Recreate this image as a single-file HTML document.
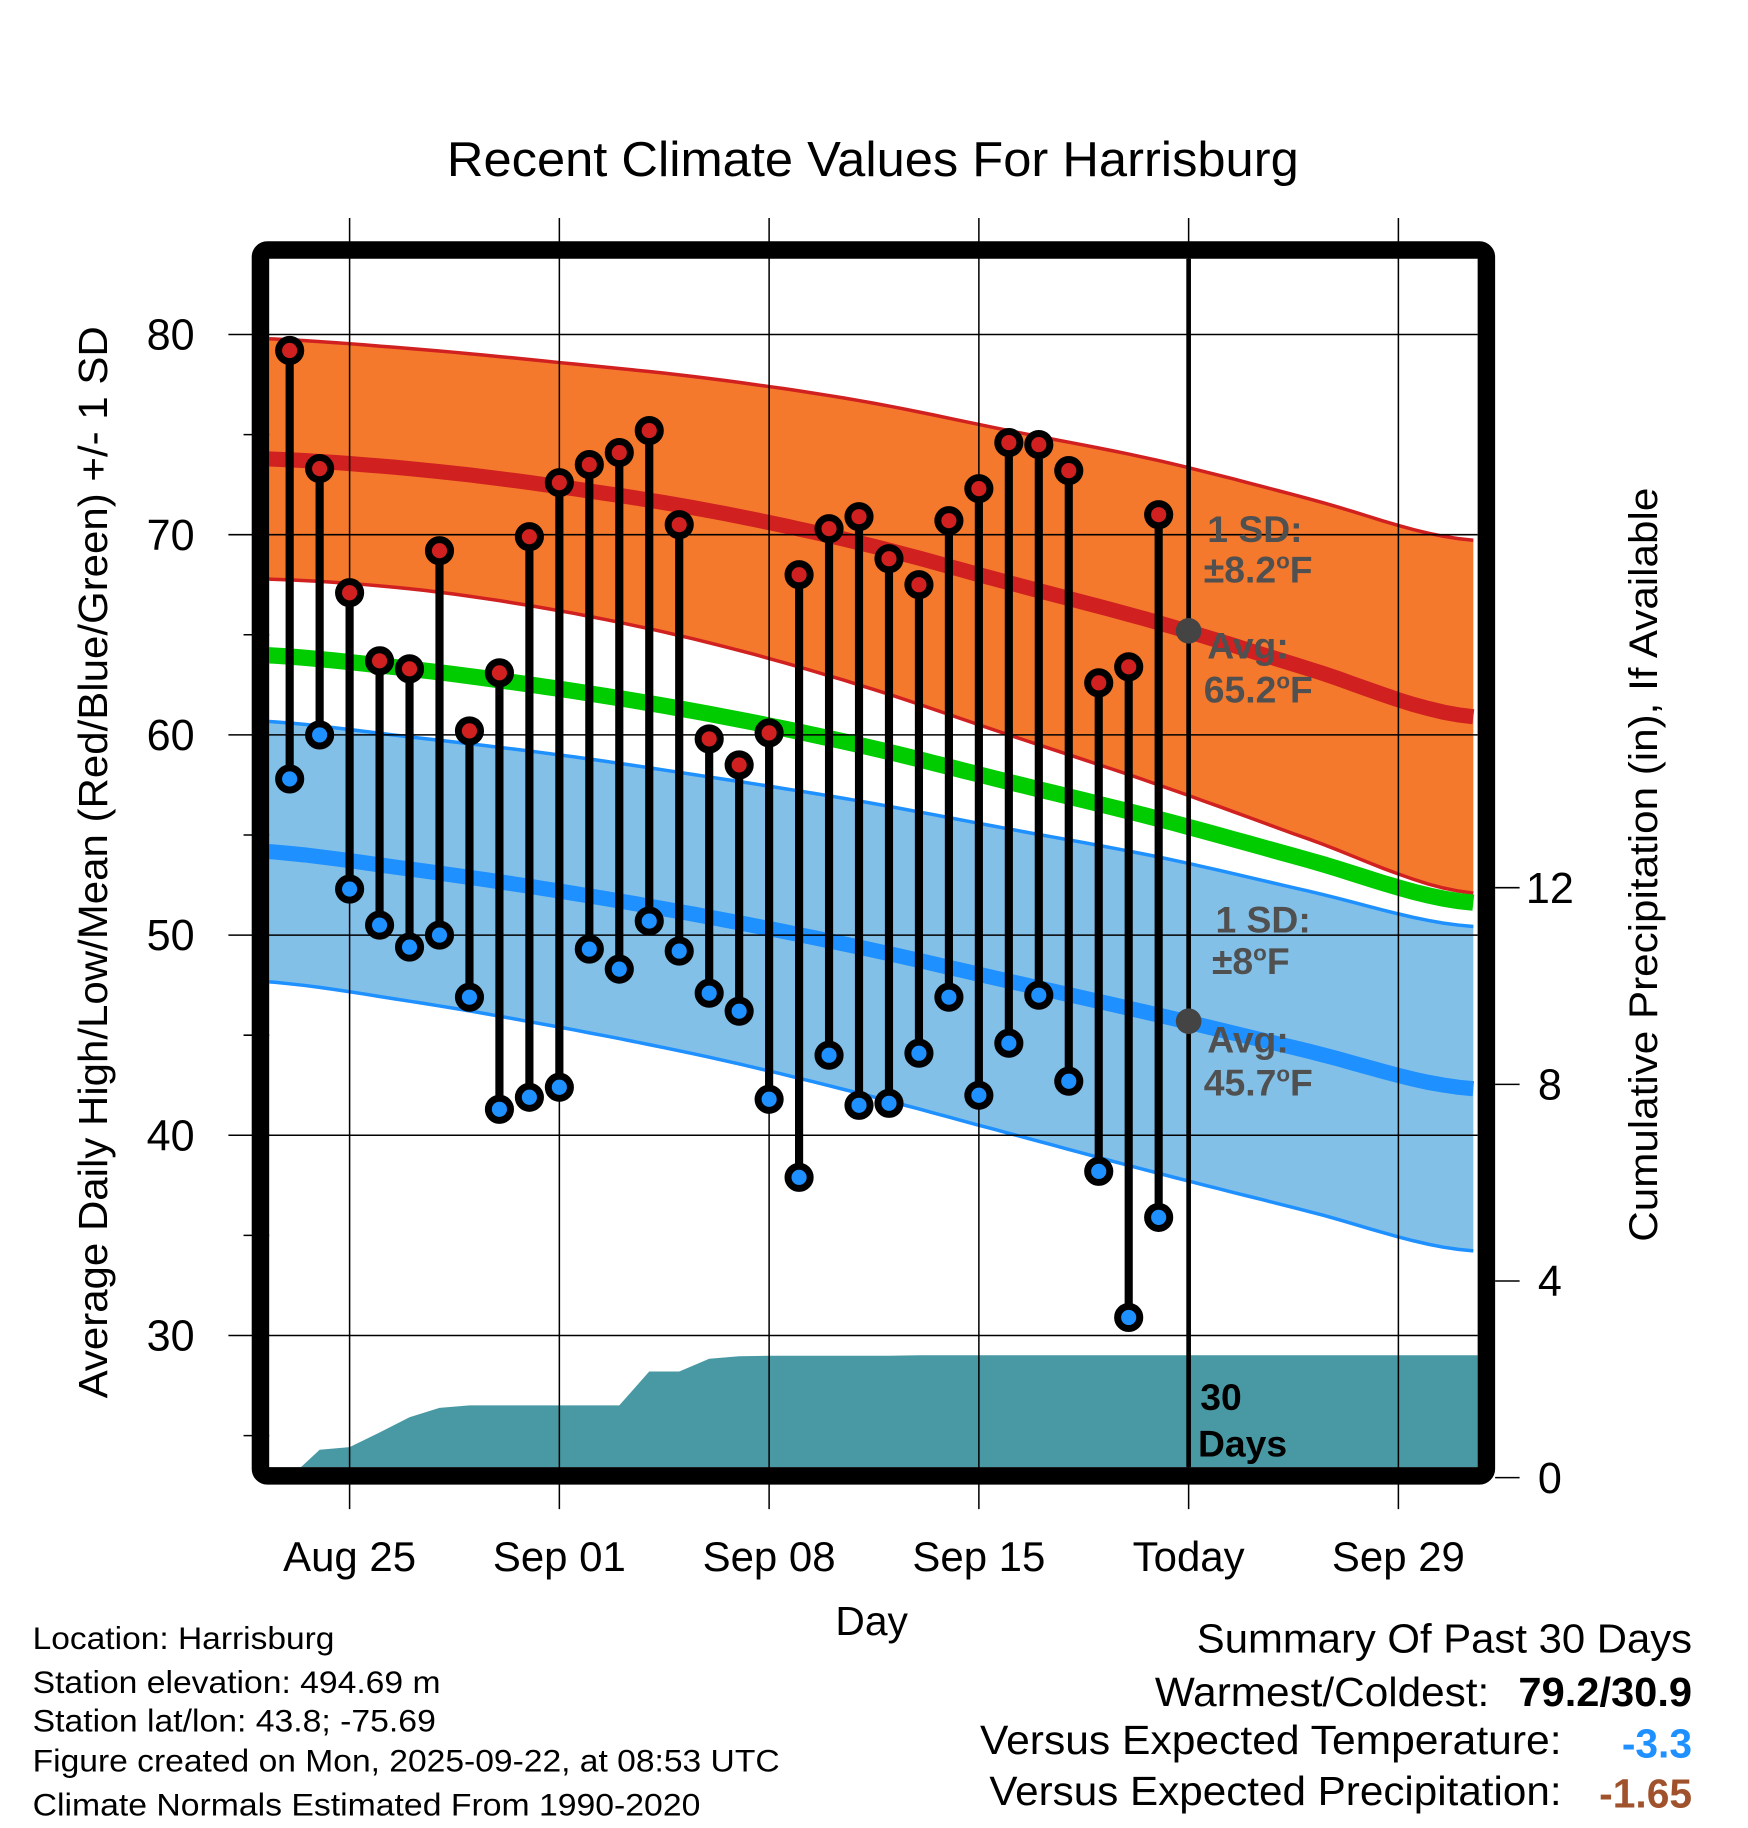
<!DOCTYPE html>
<html><head><meta charset="utf-8"><style>
html,body{margin:0;padding:0;background:#fff}
svg{display:block;font-family:"Liberation Sans",Arial,sans-serif}
</style></head><body>
<svg id="chart" width="1748" height="1828" viewBox="0 0 1500 1568.6" xmlns="http://www.w3.org/2000/svg">
<text x="749" y="151" font-size="42" text-anchor="middle" textLength="731" lengthAdjust="spacingAndGlyphs">Recent Climate Values For Harrisburg</text>
<defs><clipPath id="plotclip"><rect x="231" y="222" width="1037" height="1037"/></clipPath></defs>
<g id="bands" clip-path="url(#plotclip)"></g>
<g id="grid"></g>
<g id="marks"></g>
<g id="axes"></g>
<g font-size="27">
<text x="28" y="1415" textLength="259" lengthAdjust="spacingAndGlyphs">Location: Harrisburg</text>
<text x="28" y="1453" textLength="350" lengthAdjust="spacingAndGlyphs">Station elevation: 494.69 m</text>
<text x="28" y="1486" textLength="346" lengthAdjust="spacingAndGlyphs">Station lat/lon: 43.8; -75.69</text>
<text x="28" y="1520" textLength="641" lengthAdjust="spacingAndGlyphs">Figure created on Mon, 2025-09-22, at 08:53 UTC</text>
<text x="28" y="1558" textLength="573" lengthAdjust="spacingAndGlyphs">Climate Normals Estimated From 1990-2020</text>
</g>
<g font-size="35">
<text x="1027" y="1418" textLength="425" lengthAdjust="spacingAndGlyphs">Summary Of Past 30 Days</text>
<text x="991" y="1464" textLength="287" lengthAdjust="spacingAndGlyphs">Warmest/Coldest:</text>
<text x="1303" y="1464" font-weight="bold" textLength="149" lengthAdjust="spacingAndGlyphs">79.2/30.9</text>
<text x="841" y="1505" textLength="499" lengthAdjust="spacingAndGlyphs">Versus Expected Temperature:</text>
<text x="1452" y="1508" text-anchor="end" font-weight="bold" fill="#1e90ff">-3.3</text>
<text x="849" y="1549" textLength="491" lengthAdjust="spacingAndGlyphs">Versus Expected Precipitation:</text>
<text x="1452" y="1551" text-anchor="end" font-weight="bold" fill="#a0522d">-1.65</text>
</g>
</svg>
<script>
// Observed daily data, Aug 23 .. Sep 21
const days = ["Aug 23","Aug 24","Aug 25","Aug 26","Aug 27","Aug 28","Aug 29","Aug 30","Aug 31","Sep 01","Sep 02","Sep 03","Sep 04","Sep 05","Sep 06","Sep 07","Sep 08","Sep 09","Sep 10","Sep 11","Sep 12","Sep 13","Sep 14","Sep 15","Sep 16","Sep 17","Sep 18","Sep 19","Sep 20","Sep 21"];
const highs = [79.2,73.3,67.1,63.7,63.3,69.2,60.2,63.1,69.9,72.6,73.5,74.1,75.2,70.5,59.8,58.5,60.1,68.0,70.3,70.9,68.8,67.5,70.7,72.3,74.6,74.5,73.2,62.6,63.4,71.0];
const lows = [57.8,60.0,52.3,50.5,49.4,50.0,46.9,41.3,41.9,42.4,49.3,48.3,50.7,49.2,47.1,46.2,41.8,37.9,44.0,41.5,41.6,44.1,46.9,42.0,44.6,47.0,42.7,38.2,30.9,35.9];
const precip = [0.0,0.57,0.62,0.92,1.23,1.42,1.47,1.47,1.47,1.47,1.47,1.47,2.16,2.16,2.42,2.47,2.48,2.48,2.48,2.48,2.48,2.49,2.49,2.49,2.49,2.49,2.49,2.49,2.49,2.49];
// Normals every 5 days from Aug 22 to Oct 1
const normDays = [0,5,10,15,20,25,30,35,40];
const normHigh = [73.8,73.3,72.4,71.2,69.6,67.6,65.6,63.3,61.0];
const normHighSD = [6.0,6.0,6.2,6.6,7.1,7.6,8.1,8.5,8.8];
const normLow = [54.2,53.3,52.2,50.9,49.4,47.7,46.0,44.2,42.4];
const normLowSD = [6.5,6.6,6.8,7.0,7.3,7.6,7.9,8.0,8.1];
const tempTicks = [30,40,50,60,70,80];
const precipTicks = [0,4,8,12];
const dateTicks = ["Aug 25","Sep 01","Sep 08","Sep 15","Today","Sep 29"];
const dateTickDays = [3,10,17,24,31,38]; // days since Aug 22

const NS="http://www.w3.org/2000/svg";
const X0=231, X1=1268, Y0=222, Y1=1259;
function xDay(d){return 300+(d-3)*25.714;}
function yT(v){return 1146-(v-30)*17.18;}
function yP(v){return 1268-v*42.19;}
function mk(tag,attrs,parent){const e=document.createElementNS(NS,tag);for(const k in attrs)e.setAttribute(k,attrs[k]);parent.appendChild(e);return e;}
const bands=document.getElementById('bands'),grid=document.getElementById('grid'),marks=document.getElementById('marks'),axes=document.getElementById('axes');
function interp(arr,d){
 // smooth (Catmull-Rom) interpolation through the normal values
 const n=arr.length; let i=Math.floor(d/5); if(i<0)i=0; if(i>n-2)i=n-2;
 const t=(d-normDays[i])/5;
 const p0=arr[Math.max(i-1,0)],p1=arr[i],p2=arr[i+1],p3=arr[Math.min(i+2,n-1)];
 return 0.5*((2*p1)+(-p0+p2)*t+(2*p0-5*p1+4*p2-p3)*t*t+(-p0+3*p1-3*p2+p3)*t*t*t);
}
const dd=[];for(let d=0;d<=40.5;d+=0.5)dd.push(d);
function line(fn){return dd.map(d=>xDay(d).toFixed(1)+","+yT(fn(d)).toFixed(1)).join(" ");}
function bandPts(up,lo){return dd.map(d=>xDay(d).toFixed(1)+","+yT(up(d)).toFixed(1)).concat(dd.slice().reverse().map(d=>xDay(d).toFixed(1)+","+yT(lo(d)).toFixed(1))).join(" ");}
const hU=d=>interp(normHigh,d)+interp(normHighSD,d), hL=d=>interp(normHigh,d)-interp(normHighSD,d);
const lU=d=>interp(normLow,d)+interp(normLowSD,d), lL=d=>interp(normLow,d)-interp(normLowSD,d);
let e;
e=mk('polygon',{points:bandPts(hU,hL),fill:'#f4792c'},bands);


e=mk('polyline',{points:line(hU),fill:'none',stroke:'#d02020','stroke-width':3},bands);


e=mk('polyline',{points:line(hL),fill:'none',stroke:'#d02020','stroke-width':3},bands);


e=mk('polygon',{points:bandPts(lU,lL),fill:'#82c0e8'},bands);


e=mk('polyline',{points:line(lU),fill:'none',stroke:'#1e90ff','stroke-width':3},bands);


e=mk('polyline',{points:line(lL),fill:'none',stroke:'#1e90ff','stroke-width':3},bands);


e=mk('polyline',{points:line(d=>(interp(normHigh,d)+interp(normLow,d))/2),fill:'none',stroke:'#00cc00','stroke-width':14},bands);


e=mk('polyline',{points:line(d=>interp(normHigh,d)),fill:'none',stroke:'#d02020','stroke-width':13},bands);


e=mk('polyline',{points:line(d=>interp(normLow,d)),fill:'none',stroke:'#1e90ff','stroke-width':13},bands);


// precip area
let pp=[xDay(1)+","+(Y1+10)];
precip.forEach((v,i)=>pp.push(xDay(i+1).toFixed(1)+","+yP(v).toFixed(1)));
pp.push(xDay(41)+","+yP(precip[precip.length-1]).toFixed(1));
pp.push(xDay(41)+","+(Y1+10));
e=mk('polygon',{points:pp.join(" "),fill:'#4899a3'},bands);


// grid
tempTicks.forEach(v=>{
 e=mk('line',{x1:196,x2:X1,y1:yT(v),y2:yT(v),stroke:'#000','stroke-width':1.3},grid);
 
 
 e=mk('text',{x:167,y:yT(v)+13,'font-size':37,'text-anchor':'end'},axes);e.textContent=v;
 
 
});
for(let v=25;v<=80;v+=10){mk('line',{x1:209,x2:X0,y1:yT(v),y2:yT(v),stroke:'#000','stroke-width':1.3},grid);}
dateTicks.forEach((lab,i)=>{
 const x=xDay(dateTickDays[i]);
 e=mk('line',{x1:x,x2:x,y1:187,y2:1295,stroke:'#000','stroke-width':1.3},grid);
 
 
 e=mk('text',{x:x,y:1348,'font-size':36,'text-anchor':'middle'},axes);e.textContent=lab;
 
 
});
// today line
e=mk('line',{x1:xDay(31),x2:xDay(31),y1:Y0,y2:Y1,stroke:'#000','stroke-width':4},grid);


// observed stems
highs.forEach((h,i)=>{
 const x=xDay(i+1);
 e=mk('line',{x1:x,x2:x,y1:yT(h),y2:yT(lows[i]),stroke:'#000','stroke-width':7},marks);
 
 
});
highs.forEach((h,i)=>{
 const x=xDay(i+1);
 e=mk('circle',{cx:x,cy:yT(h),r:9.5,fill:'#d02020',stroke:'#000','stroke-width':6},marks);
 
 
 e=mk('circle',{cx:x,cy:yT(lows[i]),r:9.5,fill:'#1e90ff',stroke:'#000','stroke-width':6},marks);
 
 
});
// today avg markers
e=mk('circle',{cx:xDay(31),cy:yT(65.2),r:11,fill:'#444'},marks);


e=mk('circle',{cx:xDay(31),cy:yT(45.7),r:11,fill:'#444'},marks);


// annotations
function txt(x,y,s,name,fs,fill,sup){
 const t=mk('text',{x:x,y:y,'font-size':fs,'font-weight':'bold',fill:fill},marks);
 
 
 if(sup){t.appendChild(document.createTextNode(s));const ts=mk('tspan',{'font-size':fs*0.6,dy:-12},t);ts.textContent='o';const t2=mk('tspan',{dy:12},t);t2.textContent=sup;}
 else t.textContent=s;
}
txt(1036,465,'1 SD:','high-sd-label',32,'#505050');
txt(1033,500,'±8.2','high-sd-value',32,'#505050','F');
txt(1036,565,'Avg:','high-avg-label',32,'#505050');
txt(1033,603,'65.2','high-avg-value',32,'#505050','F');
txt(1043,800,'1 SD:','low-sd-label',32,'#505050');
txt(1040,836,'±8','low-sd-value',32,'#505050','F');
txt(1036,903,'Avg:','low-avg-label',32,'#505050');
txt(1033,940,'45.7','low-avg-value',32,'#505050','F');
txt(1030,1210,'30','days-count-label',32,'#000');
txt(1028,1250,'Days','days-unit-label',32,'#000');
// frame
e=mk('rect',{x:223.5,y:214.5,width:1052,height:1052,rx:6,fill:'none',stroke:'#000','stroke-width':15},axes);


// right axis
precipTicks.forEach(v=>{
 mk('line',{x1:1283,x2:1304,y1:yP(v),y2:yP(v),stroke:'#000','stroke-width':1.3},axes);
 e=mk('text',{x:1330,y:yP(v)+13,'font-size':37,'text-anchor':'middle'},axes);e.textContent=v;
 
 
});
e=mk('text',{x:0,y:0,'font-size':34,'text-anchor':'middle',textLength:647,lengthAdjust:'spacingAndGlyphs',transform:'translate(1422,742) rotate(-90)'},axes);
e.textContent='Cumulative Precipitation (in), If Available';


e=mk('text',{x:0,y:0,'font-size':35,'text-anchor':'middle',textLength:920,lengthAdjust:'spacingAndGlyphs',transform:'translate(92,740) rotate(-90)'},axes);
e.textContent='Average Daily High/Low/Mean (Red/Blue/Green) +/- 1 SD';


e=mk('text',{x:748,y:1403,'font-size':35,'text-anchor':'middle'},axes);
e.textContent='Day';


</script>
</body></html>
